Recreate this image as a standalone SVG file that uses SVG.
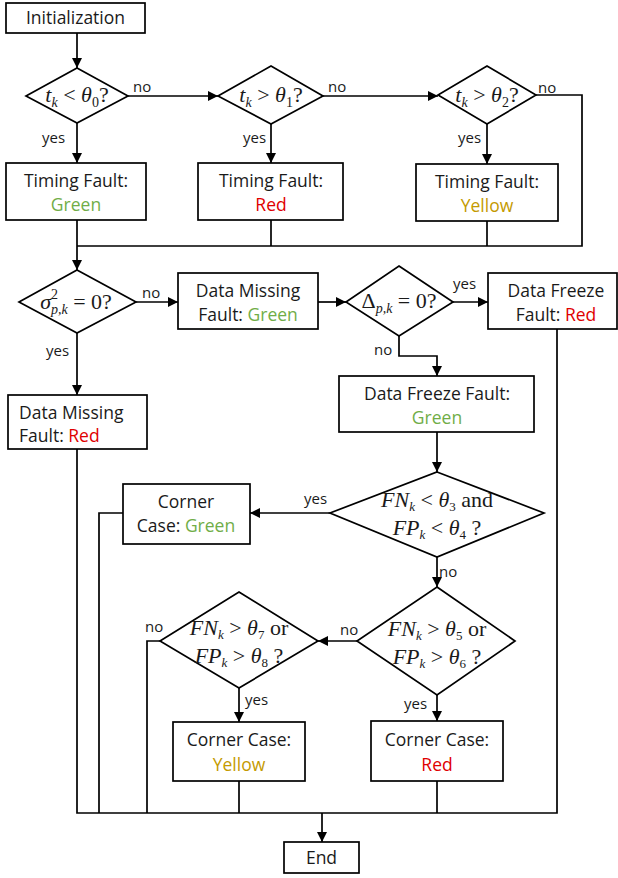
<svg xmlns="http://www.w3.org/2000/svg" width="618" height="878" viewBox="0 0 618 878">
<defs>
<marker id="arr" viewBox="0 0 10 10" refX="10" refY="5" markerWidth="10" markerHeight="10" markerUnits="userSpaceOnUse" orient="auto">
<path d="M0,0 L10,5 L0,10 z" fill="#000"/>
</marker>
<style>
.box{fill:#fff;stroke:#000;stroke-width:1.7}
.dia{fill:#fff;stroke:#000;stroke-width:1.7}
.ln{fill:none;stroke:#000;stroke-width:1.7}
.ar{fill:none;stroke:#000;stroke-width:1.7;marker-end:url(#arr)}
.t{font-family:"Open Sans","Noto Sans",sans-serif;font-size:17.5px;fill:#1a1a1a;text-anchor:middle}
.st{text-anchor:start}
.lb{font-family:"Open Sans","Noto Sans",sans-serif;font-size:15px;fill:#1a1a1a}
.m{font-family:"Liberation Serif","Times New Roman",serif;font-size:22px;fill:#1a1a1a;text-anchor:middle}
.i{font-style:italic}
.g{fill:#70AD47}
.r{fill:#E00000}
.y{fill:#C49A00}
</style>
</defs>
<g id="connectors">
<path class="ar" d="M77,33 V68"/>
<path class="ar" d="M128,96 H218"/>
<path class="ar" d="M323,96 H438"/>
<path class="ln" d="M536,95 H582 V246 H77"/>
<path class="ar" d="M77,123 V163"/>
<path class="ar" d="M271,123 V163"/>
<path class="ar" d="M487,124 V164"/>
<path class="ln" d="M271,220 V246"/>
<path class="ln" d="M487,221 V246"/>
<path class="ar" d="M77,220 V270"/>
<path class="ar" d="M136,302 H178"/>
<path class="ar" d="M77,333 V395"/>
<path class="ar" d="M318,302 H346"/>
<path class="ar" d="M453,302 H488"/>
<path class="ar" d="M399,336 V356 H437 V376"/>
<path class="ar" d="M437,432 V472"/>
<path class="ar" d="M330,513 H250"/>
<path class="ln" d="M123,513 H99 V813"/>
<path class="ar" d="M437,557 V587"/>
<path class="ar" d="M357,641 H318"/>
<path class="ln" d="M160,641 H147 V813"/>
<path class="ar" d="M239,688 V722"/>
<path class="ar" d="M437,695 V721"/>
<path class="ln" d="M77,449 V813 H557 V329"/>
<path class="ln" d="M239,781 V813"/>
<path class="ln" d="M437,781 V813"/>
<path class="ar" d="M322,813 V842"/>
<text class="lb" x="133" y="92">no</text>
<text class="lb" x="328" y="92">no</text>
<text class="lb" x="538" y="93">no</text>
<text class="lb" x="42" y="143">yes</text>
<text class="lb" x="243" y="143">yes</text>
<text class="lb" x="458" y="143">yes</text>
<text class="lb" x="142" y="298">no</text>
<text class="lb" x="46" y="356">yes</text>
<text class="lb" x="453" y="289">yes</text>
<text class="lb" x="374" y="355">no</text>
<text class="lb" x="304" y="504">yes</text>
<text class="lb" x="439" y="577">no</text>
<text class="lb" x="340" y="635">no</text>
<text class="lb" x="145" y="632">no</text>
<text class="lb" x="245" y="705">yes</text>
<text class="lb" x="404" y="709">yes</text>
</g>
<g id="init">
<rect class="box" x="6" y="3" width="139" height="30"/>
<text class="t" x="75.5" y="24">Initialization</text>
</g>
<g id="d1">
<polygon class="dia" points="77,68 128,96 77,123 26,96"/>
<text class="m" x="77" y="102"><tspan class="i">t</tspan><tspan class="i" font-size="14" dy="5">k</tspan><tspan dy="-5"> &lt; </tspan><tspan class="i">θ</tspan><tspan font-size="14" dy="5">0</tspan><tspan dy="-5">?</tspan></text>
</g>
<g id="d2">
<polygon class="dia" points="271,66 323,96 271,124 218,96"/>
<text class="m" x="271" y="102"><tspan class="i">t</tspan><tspan class="i" font-size="14" dy="5">k</tspan><tspan dy="-5"> &gt; </tspan><tspan class="i">θ</tspan><tspan font-size="14" dy="5">1</tspan><tspan dy="-5">?</tspan></text>
</g>
<g id="d3">
<polygon class="dia" points="487,66 536,95 487,124 438,95"/>
<text class="m" x="487" y="102"><tspan class="i">t</tspan><tspan class="i" font-size="14" dy="5">k</tspan><tspan dy="-5"> &gt; </tspan><tspan class="i">θ</tspan><tspan font-size="14" dy="5">2</tspan><tspan dy="-5">?</tspan></text>
</g>
<g id="tf-green">
<rect class="box" x="6" y="163" width="140" height="57"/>
<text class="t" x="76" y="187">Timing Fault:</text>
<text class="t g" x="76" y="211">Green</text>
</g>
<g id="tf-red">
<rect class="box" x="198" y="163" width="145" height="57"/>
<text class="t" x="271" y="187">Timing Fault:</text>
<text class="t r" x="271" y="211">Red</text>
</g>
<g id="tf-yellow">
<rect class="box" x="416" y="164" width="142" height="57"/>
<text class="t" x="487" y="188">Timing Fault:</text>
<text class="t y" x="487" y="212">Yellow</text>
</g>
<g id="d4">
<polygon class="dia" points="77,270 136,302 77,333 19,302"/>
<text class="m" x="76" y="309"><tspan class="i">σ</tspan><tspan font-size="14" dy="-10">2</tspan><tspan class="i" font-size="14" dx="-7" dy="15">p,k</tspan><tspan dy="-5"> = 0?</tspan></text>
</g>
<g id="dm-green">
<rect class="box" x="178" y="273" width="140" height="56"/>
<text class="t" x="248" y="297">Data Missing</text>
<text class="t" x="248" y="321">Fault: <tspan class="g">Green</tspan></text>
</g>
<g id="dm-red">
<rect class="box" x="8" y="395" width="139" height="54"/>
<text class="t st" x="19" y="419">Data Missing</text>
<text class="t st" x="19" y="442">Fault: <tspan class="r">Red</tspan></text>
</g>
<g id="d5">
<polygon class="dia" points="399,266 453,302 399,336 346,302"/>
<text class="m" x="399" y="308"><tspan>Δ</tspan><tspan class="i" font-size="14" dy="5">p,k</tspan><tspan dy="-5"> = 0?</tspan></text>
</g>
<g id="df-red">
<rect class="box" x="488" y="273" width="129" height="56"/>
<text class="t" x="556" y="297">Data Freeze</text>
<text class="t" x="556" y="321">Fault: <tspan class="r">Red</tspan></text>
</g>
<g id="df-green">
<rect class="box" x="339" y="376" width="195" height="56"/>
<text class="t" x="437" y="400">Data Freeze Fault:</text>
<text class="t g" x="437" y="424">Green</text>
</g>
<g id="d6">
<polygon class="dia" points="437,472 544,513 437,557 330,513"/>
<text class="m" x="437" y="507"><tspan class="i">FN</tspan><tspan class="i" font-size="13" dy="4">k</tspan><tspan dy="-4"> &lt; </tspan><tspan class="i">θ</tspan><tspan font-size="13" dy="4">3</tspan><tspan dy="-4"> and</tspan></text>
<text class="m" x="437" y="535"><tspan class="i">FP</tspan><tspan class="i" font-size="13" dy="4">k</tspan><tspan dy="-4"> &lt; </tspan><tspan class="i">θ</tspan><tspan font-size="13" dy="4">4</tspan><tspan dy="-4"> ?</tspan></text>
</g>
<g id="cc-green">
<rect class="box" x="123" y="484" width="127" height="60"/>
<text class="t" x="186" y="508">Corner</text>
<text class="t" x="186" y="532">Case: <tspan class="g">Green</tspan></text>
</g>
<g id="d7">
<polygon class="dia" points="437,587 515,641 437,695 357,641"/>
<text class="m" x="437" y="636"><tspan class="i">FN</tspan><tspan class="i" font-size="13" dy="4">k</tspan><tspan dy="-4"> &gt; </tspan><tspan class="i">θ</tspan><tspan font-size="13" dy="4">5</tspan><tspan dy="-4"> or</tspan></text>
<text class="m" x="437" y="664"><tspan class="i">FP</tspan><tspan class="i" font-size="13" dy="4">k</tspan><tspan dy="-4"> &gt; </tspan><tspan class="i">θ</tspan><tspan font-size="13" dy="4">6</tspan><tspan dy="-4"> ?</tspan></text>
</g>
<g id="d8">
<polygon class="dia" points="239,592 318,641 239,688 160,641"/>
<text class="m" x="239" y="635"><tspan class="i">FN</tspan><tspan class="i" font-size="13" dy="4">k</tspan><tspan dy="-4"> &gt; </tspan><tspan class="i">θ</tspan><tspan font-size="13" dy="4">7</tspan><tspan dy="-4"> or</tspan></text>
<text class="m" x="239" y="663"><tspan class="i">FP</tspan><tspan class="i" font-size="13" dy="4">k</tspan><tspan dy="-4"> &gt; </tspan><tspan class="i">θ</tspan><tspan font-size="13" dy="4">8</tspan><tspan dy="-4"> ?</tspan></text>
</g>
<g id="cc-yellow">
<rect class="box" x="173" y="722" width="132" height="59"/>
<text class="t" x="239" y="746">Corner Case:</text>
<text class="t y" x="239" y="771">Yellow</text>
</g>
<g id="cc-red">
<rect class="box" x="371" y="721" width="132" height="60"/>
<text class="t" x="437" y="746">Corner Case:</text>
<text class="t r" x="437" y="771">Red</text>
</g>
<g id="end">
<rect class="box" x="284" y="842" width="75" height="31"/>
<text class="t" x="321.5" y="864">End</text>
</g>
</svg>
